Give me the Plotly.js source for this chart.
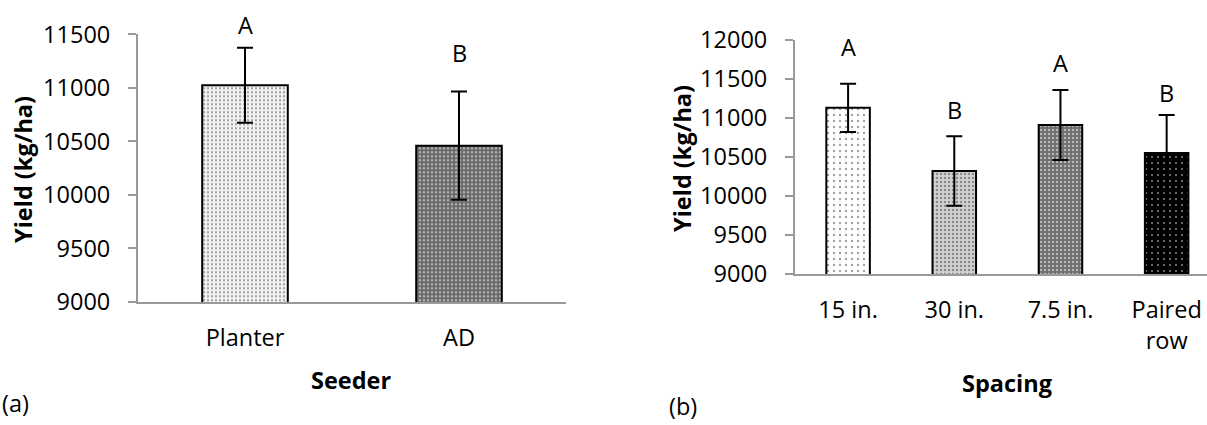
<!DOCTYPE html>
<html>
<head>
<meta charset="utf-8">
<script src="https://cdn.plot.ly/plotly-3.0.1.min.js"></script>
<style>html,body{margin:0;padding:0;background:#fff;}#chart{width:1207px;height:425px;}</style>
</head>
<body>
<div id="chart"></div>
<script>
// ---- data ----
var seederCats = ['Planter', 'AD'];
var seederYield = [11025, 10460];
var seederErr = [350, 505];
var seederLetters = ['A', 'B'];

var spacingCats = ['15 in.', '30 in.', '7.5 in.', 'Paired<br>row'];
var spacingYield = [11130, 10320, 10910, 10550];
var spacingErr = [310, 445, 450, 490];
var spacingLetters = ['A', 'B', 'A', 'B'];

var seederTicks = [9000, 9500, 10000, 10500, 11000, 11500];
var spacingTicks = [9000, 9500, 10000, 10500, 11000, 11500, 12000];

// ---- styling ----
var FONT = 'Open Sans, Noto Sans, sans-serif';
var FS = 23.5;
var W = 1207, H = 425;
function px(x) { return x / W; }
function py(y) { return (H - y) / H; }

var errStyle = {type: 'data', visible: true, color: '#000', thickness: 2, width: 8};

var trace1 = {
  type: 'bar', x: seederCats, y: seederYield, xaxis: 'x', yaxis: 'y',
  width: 0.4,
  error_y: Object.assign({array: seederErr}, errStyle),
  marker: {
    color: ['#f4f4f4', '#666666'],
    line: {color: '#000', width: 2},
    pattern: {
      shape: ['.', '.'],
      fgcolor: ['#a0a0a0', '#bcbcbc'],
      size: [4, 4],
      solidity: [0.25, 0.35],
      fillmode: 'overlay'
    }
  },
  hoverinfo: 'x+y', showlegend: false
};

var trace2 = {
  type: 'bar', x: spacingCats, y: spacingYield, xaxis: 'x2', yaxis: 'y2',
  width: 0.41,
  error_y: Object.assign({array: spacingErr}, errStyle),
  marker: {
    color: ['#ffffff', '#d2d2d2', '#6e6e6e', '#000000'],
    line: {color: '#000', width: 2},
    pattern: {
      shape: ['.', '.', '.', '.'],
      fgcolor: ['#a0a0a0', '#8a8a8a', '#c4c4c4', '#ffffff'],
      size: [6, 4, 4, 6],
      solidity: [0.12, 0.3, 0.3, 0.1],
      fillmode: 'overlay'
    }
  },
  hoverinfo: 'x+y', showlegend: false
};

var axisLine = {showline: true, linecolor: '#9a9a9a', linewidth: 2, showgrid: false, zeroline: false,
  tickfont: {family: FONT, size: FS, color: '#000'}, fixedrange: true};

var layout = {
  width: W, height: H,
  margin: {l: 0, r: 0, t: 0, b: 0},
  paper_bgcolor: '#fff', plot_bgcolor: 'rgba(0,0,0,0)',
  font: {family: FONT, size: FS, color: '#000'},
  showlegend: false,
  xaxis: Object.assign({}, axisLine, {domain: [px(138), px(566)], range: [-0.5, 1.5], type: 'category',
    anchor: 'y', ticks: '', ticklen: 0, ticklabelstandoff: 14}),
  yaxis: Object.assign({}, axisLine, {domain: [py(302), py(34.3)], range: [9000, 11500],
    tickvals: seederTicks, ticktext: seederTicks.map(String), anchor: 'x',
    ticks: 'outside', ticklen: 8, tickwidth: 2, tickcolor: '#9a9a9a', ticklabelstandoff: 13}),
  xaxis2: Object.assign({}, axisLine, {domain: [px(795), 1], range: [-0.5, 3.38], type: 'category',
    anchor: 'y2', ticks: '', ticklen: 0, ticklabelstandoff: 14}),
  yaxis2: Object.assign({}, axisLine, {domain: [py(274), py(40)], range: [9000, 12000],
    tickvals: spacingTicks, ticktext: spacingTicks.map(String), anchor: 'x2',
    ticks: 'outside', ticklen: 8, tickwidth: 2, tickcolor: '#9a9a9a', ticklabelstandoff: 13}),
  annotations: []
};

var ann = layout.annotations;
function paperText(text, x, y, opts) {
  ann.push(Object.assign({text: text, xref: 'paper', yref: 'paper', x: px(x), y: py(y),
    xanchor: 'center', yanchor: 'middle', showarrow: false,
    font: {family: FONT, size: FS, color: '#000'}}, opts || {}));
}
// axis titles
paperText('<b>Yield (kg/ha)</b>', 23, 170, {textangle: -90});
paperText('<b>Yield (kg/ha)</b>', 682, 159, {textangle: -90});
paperText('<b>Seeder</b>', 351, 380);
paperText('<b>Spacing</b>', 1007, 383);
// panel labels
paperText('(a)', 0, 403, {xanchor: 'left'});
paperText('(b)', 667, 406, {xanchor: 'left'});

// significance letters: x from the category axis, vertical placement in page pixels
var seederLetterPxY = [25, 53];
var spacingLetterPxY = [47, 110, 63, 93];
seederLetters.forEach(function (t, i) {
  ann.push({text: t, xref: 'x', yref: 'paper', x: seederCats[i], y: py(seederLetterPxY[i]),
    showarrow: false, xanchor: 'center', yanchor: 'middle',
    font: {family: FONT, size: FS, color: '#000'}});
});
spacingLetters.forEach(function (t, i) {
  ann.push({text: t, xref: 'x2', yref: 'paper', x: spacingCats[i], y: py(spacingLetterPxY[i]),
    showarrow: false, xanchor: 'center', yanchor: 'middle',
    font: {family: FONT, size: FS, color: '#000'}});
});

Plotly.newPlot('chart', [trace1, trace2], layout, {staticPlot: true, displayModeBar: false});
</script>
</body>
</html>
